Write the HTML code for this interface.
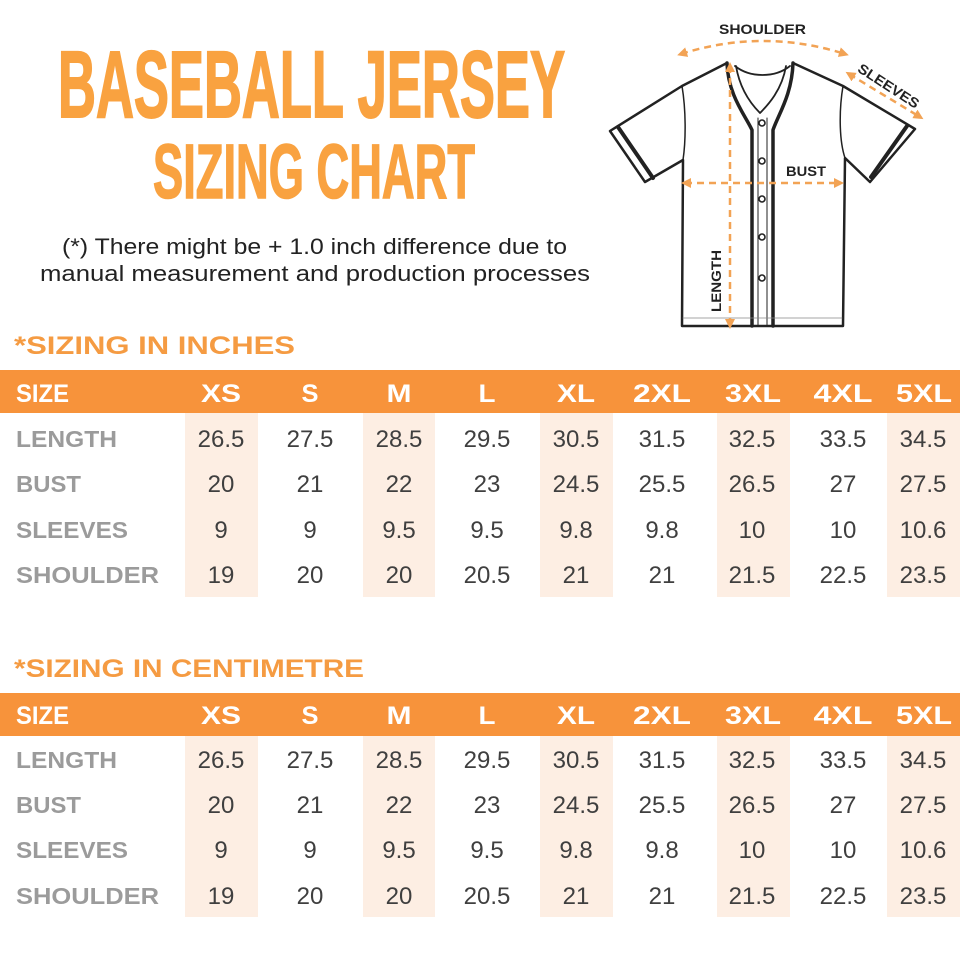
<!DOCTYPE html>
<html><head><meta charset="utf-8"><style>
html,body{margin:0;padding:0;background:#fff;width:960px;height:960px;overflow:hidden}
svg{display:block}
.t{font-family:"Liberation Sans",sans-serif}
.v{font-family:"Liberation Sans",sans-serif;font-size:24px;fill:#3f3f3f;text-anchor:middle}
.h{font-family:"Liberation Sans",sans-serif;font-weight:bold;font-size:25px;fill:#fff;text-anchor:middle}
.lb{font-family:"Liberation Sans",sans-serif;font-weight:bold;font-size:23px;fill:#9b9b9b}
</style></head><body>
<svg width="960" height="960" viewBox="0 0 960 960" xmlns="http://www.w3.org/2000/svg">
<defs>
<marker id="ah" viewBox="0 0 10 10" refX="6" refY="5" markerWidth="4" markerHeight="4" orient="auto-start-reverse">
<path d="M0,0 L10,5 L0,10 z" fill="#f2a355"/>
</marker>
</defs>
<rect width="960" height="960" fill="#fff"/>

<!-- Title -->
<text class="t" x="58" y="117" font-size="95" font-weight="bold" fill="#f9a240" stroke="#f9a240" stroke-width="2" textLength="507" lengthAdjust="spacingAndGlyphs">BASEBALL JERSEY</text>
<text class="t" x="153" y="198" font-size="77" font-weight="bold" fill="#f9a240" stroke="#f9a240" stroke-width="1.6" textLength="322" lengthAdjust="spacingAndGlyphs">SIZING CHART</text>
<text class="t" x="62" y="254" font-size="22" fill="#222" textLength="505" lengthAdjust="spacingAndGlyphs">(*) There might be + 1.0 inch difference due to</text>
<text class="t" x="40" y="281" font-size="22" fill="#222" textLength="550" lengthAdjust="spacingAndGlyphs">manual measurement and production processes</text>

<!-- Shirt -->
<g fill="none" stroke="#222" stroke-linejoin="round" stroke-linecap="round">
<path d="M727,63 L682,86 L610,131 L645,182 L683,160 L682,326 L843,326 L845,158 L870,182 L915,129 L843,86 L793,63" fill="#fff" stroke-width="2.5"/>
<path d="M682,86 C686,110 686,140 683,160" stroke-width="1.5"/>
<path d="M843,86 C839,110 839,140 845,158" stroke-width="1.5"/>
<path d="M618,127 L653,178" stroke-width="4"/>
<path d="M907,126 L871,177" stroke-width="4"/>
<path d="M735,66 C750,78 775,78 790,66" stroke-width="1.8"/>
<path d="M727,63 C728,95 745,115 752,130 L752,326" stroke-width="3.5"/>
<path d="M793,63 C792,95 778,115 773,130 L773,326" stroke-width="3.5"/>
<path d="M736,66 C740,90 752,105 760,113 C768,105 782,90 786,66" stroke-width="1.8"/>
<path d="M758,118 L758,326 M767,118 L767,326" stroke-width="1"/>
<path d="M683,318 L842,318" stroke-width="0.8" stroke="#888"/>
<circle cx="762" cy="123" r="3" stroke-width="1.6"/>
<circle cx="762" cy="161" r="3" stroke-width="1.6"/>
<circle cx="762" cy="199" r="3" stroke-width="1.6"/>
<circle cx="762" cy="237" r="3" stroke-width="1.6"/>
<circle cx="762" cy="278" r="3" stroke-width="1.6"/>
</g>
<g fill="none" stroke="#f2a355" stroke-width="2.5" stroke-dasharray="7 5">
<path d="M681,54 Q763,28 845,54" marker-start="url(#ah)" marker-end="url(#ah)"/>
<path d="M849,74 L920,117" marker-start="url(#ah)" marker-end="url(#ah)"/>
<path d="M685,183 L840,183" marker-start="url(#ah)" marker-end="url(#ah)"/>
<path d="M730,66 L730,325" marker-start="url(#ah)" marker-end="url(#ah)"/>
</g>
<text class="t" x="719" y="34" font-size="14" font-weight="bold" fill="#222" textLength="87" lengthAdjust="spacingAndGlyphs">SHOULDER</text>
<text class="t" x="786" y="176" font-size="14" font-weight="bold" fill="#222" textLength="40" lengthAdjust="spacingAndGlyphs">BUST</text>
<text class="t" font-size="14" font-weight="bold" fill="#222" text-anchor="middle" transform="translate(886,90) rotate(33)" textLength="70" lengthAdjust="spacingAndGlyphs">SLEEVES</text>
<text class="t" font-size="14" font-weight="bold" fill="#222" text-anchor="middle" transform="translate(721,281) rotate(-90)" textLength="62" lengthAdjust="spacingAndGlyphs">LENGTH</text>

<!-- Section 1 -->
<text class="t" x="14" y="354" font-size="25" font-weight="bold" fill="#f59b42" textLength="281" lengthAdjust="spacingAndGlyphs">*SIZING IN INCHES</text>
<rect x="0" y="370" width="960" height="43" fill="#f7933b"/>
<g fill="#fdeee3">
<rect x="185" y="413" width="73" height="184"/>
<rect x="363" y="413" width="72" height="184"/>
<rect x="540" y="413" width="73" height="184"/>
<rect x="717" y="413" width="73" height="184"/>
<rect x="887" y="413" width="73" height="184"/>
</g>
<g>
<text class="h" x="16" y="402" style="text-anchor:start" textLength="53" lengthAdjust="spacingAndGlyphs">SIZE</text>
<text class="h" x="221" y="402" textLength="40" lengthAdjust="spacingAndGlyphs">XS</text>
<text class="h" x="310" y="402" textLength="17" lengthAdjust="spacingAndGlyphs">S</text>
<text class="h" x="399" y="402" textLength="25" lengthAdjust="spacingAndGlyphs">M</text>
<text class="h" x="487" y="402" textLength="17" lengthAdjust="spacingAndGlyphs">L</text>
<text class="h" x="576" y="402" textLength="38" lengthAdjust="spacingAndGlyphs">XL</text>
<text class="h" x="662" y="402" textLength="58" lengthAdjust="spacingAndGlyphs">2XL</text>
<text class="h" x="753" y="402" textLength="56" lengthAdjust="spacingAndGlyphs">3XL</text>
<text class="h" x="843" y="402" textLength="59" lengthAdjust="spacingAndGlyphs">4XL</text>
<text class="h" x="924" y="402" textLength="56" lengthAdjust="spacingAndGlyphs">5XL</text>
</g>
<text class="lb" x="16" y="447" textLength="101" lengthAdjust="spacingAndGlyphs">LENGTH</text>
<text class="lb" x="16" y="492" textLength="65" lengthAdjust="spacingAndGlyphs">BUST</text>
<text class="lb" x="16" y="538" textLength="112" lengthAdjust="spacingAndGlyphs">SLEEVES</text>
<text class="lb" x="16" y="583" textLength="143" lengthAdjust="spacingAndGlyphs">SHOULDER</text>
<g>
<text class="v" x="221" y="447">26.5</text><text class="v" x="310" y="447">27.5</text><text class="v" x="399" y="447">28.5</text><text class="v" x="487" y="447">29.5</text><text class="v" x="576" y="447">30.5</text><text class="v" x="662" y="447">31.5</text><text class="v" x="752" y="447">32.5</text><text class="v" x="843" y="447">33.5</text><text class="v" x="923" y="447">34.5</text>
<text class="v" x="221" y="492">20</text><text class="v" x="310" y="492">21</text><text class="v" x="399" y="492">22</text><text class="v" x="487" y="492">23</text><text class="v" x="576" y="492">24.5</text><text class="v" x="662" y="492">25.5</text><text class="v" x="752" y="492">26.5</text><text class="v" x="843" y="492">27</text><text class="v" x="923" y="492">27.5</text>
<text class="v" x="221" y="538">9</text><text class="v" x="310" y="538">9</text><text class="v" x="399" y="538">9.5</text><text class="v" x="487" y="538">9.5</text><text class="v" x="576" y="538">9.8</text><text class="v" x="662" y="538">9.8</text><text class="v" x="752" y="538">10</text><text class="v" x="843" y="538">10</text><text class="v" x="923" y="538">10.6</text>
<text class="v" x="221" y="583">19</text><text class="v" x="310" y="583">20</text><text class="v" x="399" y="583">20</text><text class="v" x="487" y="583">20.5</text><text class="v" x="576" y="583">21</text><text class="v" x="662" y="583">21</text><text class="v" x="752" y="583">21.5</text><text class="v" x="843" y="583">22.5</text><text class="v" x="923" y="583">23.5</text>
</g>

<!-- Section 2 -->
<text class="t" x="14" y="677" font-size="25" font-weight="bold" fill="#f59b42" textLength="350" lengthAdjust="spacingAndGlyphs">*SIZING IN CENTIMETRE</text>
<rect x="0" y="693" width="960" height="43" fill="#f7933b"/>
<g fill="#fdeee3">
<rect x="185" y="736" width="73" height="181"/>
<rect x="363" y="736" width="72" height="181"/>
<rect x="540" y="736" width="73" height="181"/>
<rect x="717" y="736" width="73" height="181"/>
<rect x="887" y="736" width="73" height="181"/>
</g>
<g>
<text class="h" x="16" y="724" style="text-anchor:start" textLength="53" lengthAdjust="spacingAndGlyphs">SIZE</text>
<text class="h" x="221" y="724" textLength="40" lengthAdjust="spacingAndGlyphs">XS</text>
<text class="h" x="310" y="724" textLength="17" lengthAdjust="spacingAndGlyphs">S</text>
<text class="h" x="399" y="724" textLength="25" lengthAdjust="spacingAndGlyphs">M</text>
<text class="h" x="487" y="724" textLength="17" lengthAdjust="spacingAndGlyphs">L</text>
<text class="h" x="576" y="724" textLength="38" lengthAdjust="spacingAndGlyphs">XL</text>
<text class="h" x="662" y="724" textLength="58" lengthAdjust="spacingAndGlyphs">2XL</text>
<text class="h" x="753" y="724" textLength="56" lengthAdjust="spacingAndGlyphs">3XL</text>
<text class="h" x="843" y="724" textLength="59" lengthAdjust="spacingAndGlyphs">4XL</text>
<text class="h" x="924" y="724" textLength="56" lengthAdjust="spacingAndGlyphs">5XL</text>
</g>
<text class="lb" x="16" y="768" textLength="101" lengthAdjust="spacingAndGlyphs">LENGTH</text>
<text class="lb" x="16" y="813" textLength="65" lengthAdjust="spacingAndGlyphs">BUST</text>
<text class="lb" x="16" y="858" textLength="112" lengthAdjust="spacingAndGlyphs">SLEEVES</text>
<text class="lb" x="16" y="904" textLength="143" lengthAdjust="spacingAndGlyphs">SHOULDER</text>
<g>
<text class="v" x="221" y="768">26.5</text><text class="v" x="310" y="768">27.5</text><text class="v" x="399" y="768">28.5</text><text class="v" x="487" y="768">29.5</text><text class="v" x="576" y="768">30.5</text><text class="v" x="662" y="768">31.5</text><text class="v" x="752" y="768">32.5</text><text class="v" x="843" y="768">33.5</text><text class="v" x="923" y="768">34.5</text>
<text class="v" x="221" y="813">20</text><text class="v" x="310" y="813">21</text><text class="v" x="399" y="813">22</text><text class="v" x="487" y="813">23</text><text class="v" x="576" y="813">24.5</text><text class="v" x="662" y="813">25.5</text><text class="v" x="752" y="813">26.5</text><text class="v" x="843" y="813">27</text><text class="v" x="923" y="813">27.5</text>
<text class="v" x="221" y="858">9</text><text class="v" x="310" y="858">9</text><text class="v" x="399" y="858">9.5</text><text class="v" x="487" y="858">9.5</text><text class="v" x="576" y="858">9.8</text><text class="v" x="662" y="858">9.8</text><text class="v" x="752" y="858">10</text><text class="v" x="843" y="858">10</text><text class="v" x="923" y="858">10.6</text>
<text class="v" x="221" y="904">19</text><text class="v" x="310" y="904">20</text><text class="v" x="399" y="904">20</text><text class="v" x="487" y="904">20.5</text><text class="v" x="576" y="904">21</text><text class="v" x="662" y="904">21</text><text class="v" x="752" y="904">21.5</text><text class="v" x="843" y="904">22.5</text><text class="v" x="923" y="904">23.5</text>
</g>
</svg>
</body></html>
